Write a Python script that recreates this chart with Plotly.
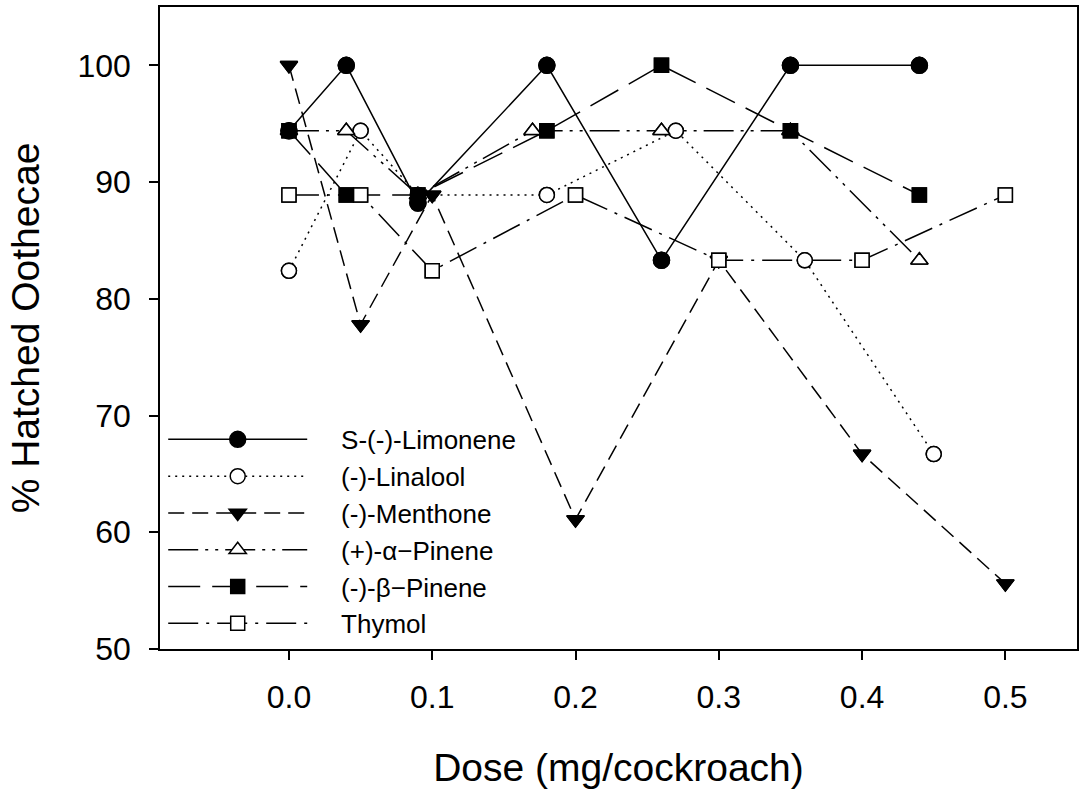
import plotly.graph_objects as go

# Dose (mg/cockroach) and % hatched oothecae for each compound
dose_limonene = [0.0, 0.04, 0.09, 0.18, 0.26, 0.35, 0.44]
hatch_limonene = [94.4, 100.0, 88.2, 100.0, 83.3, 100.0, 100.0]

dose_linalool = [0.0, 0.05, 0.09, 0.18, 0.27, 0.36, 0.45]
hatch_linalool = [82.4, 94.4, 88.9, 88.9, 94.4, 83.3, 66.7]

dose_menthone = [0.0, 0.05, 0.1, 0.2, 0.3, 0.4, 0.5]
hatch_menthone = [100.0, 77.8, 88.9, 61.1, 83.3, 66.7, 55.6]

dose_apinene = [0.0, 0.04, 0.09, 0.17, 0.26, 0.35, 0.44]
hatch_apinene = [94.4, 94.4, 88.9, 94.4, 94.4, 94.4, 83.3]

dose_bpinene = [0.0, 0.04, 0.09, 0.18, 0.26, 0.35, 0.44]
hatch_bpinene = [94.4, 88.9, 88.9, 94.4, 100.0, 94.4, 88.9]

dose_thymol = [0.0, 0.05, 0.1, 0.2, 0.3, 0.4, 0.5]
hatch_thymol = [88.9, 88.9, 82.4, 88.9, 83.3, 83.3, 88.9]

names = ["S-(-)-Limonene", "(-)-Linalool", "(-)-Menthone",
         "(+)-\u03b1\u2212Pinene", "(-)-\u03b2\u2212Pinene", "Thymol"]

FONT = "Liberation Sans, Arial, sans-serif"
BLACK = "#000000"

series = [
    # name, x, y, dash, symbol, fill, size
    (names[0], dose_limonene, hatch_limonene, "solid", "circle", BLACK, 16),
    (names[1], dose_linalool, hatch_linalool, "2px,5px", "circle", "white", 15),
    (names[2], dose_menthone, hatch_menthone, "16px,8px", "triangle-down", BLACK, 15),
    (names[3], dose_apinene, hatch_apinene, "30px,7px,3px,7px,3px,7px", "triangle-up", "white", 15),
    (names[4], dose_bpinene, hatch_bpinene, "32px,12px", "square", BLACK, 14),
    (names[5], dose_thymol, hatch_thymol, "30px,8px,3px,8px", "square", "white", 14),
]

fig = go.Figure()

# Lines (with legend entries) first
for i, (name, x, y, dash, sym, fill, size) in enumerate(series):
    fig.add_trace(go.Scatter(
        x=x, y=y, name="\u00a0\u00a0\u00a0\u00a0" + name, mode="lines+markers",
        line=dict(color=BLACK, width=1.5, dash=dash),
        marker=dict(symbol=sym, color=fill, size=size,
                    line=dict(color=BLACK, width=1.5)),
    ))

# Markers drawn again on top of all lines
marker_order = [2, 1, 3, 5, 4, 0]
for i in marker_order:
    name, x, y, dash, sym, fill, size = series[i]
    fig.add_trace(go.Scatter(
        x=x, y=y, mode="markers", showlegend=False, hoverinfo="skip",
        marker=dict(symbol=sym, color=fill, size=size,
                    line=dict(color=BLACK, width=1.5)),
    ))

axis_common = dict(
    showline=True, linecolor=BLACK, linewidth=1.5, mirror=True,
    ticks="outside", ticklen=9, tickwidth=1.5, tickcolor=BLACK,
    showgrid=False, zeroline=False,
    tickfont=dict(family=FONT, size=32, color=BLACK),
)

fig.update_layout(
    width=1082, height=793,
    margin=dict(l=160, r=3, t=7, b=144),
    paper_bgcolor="white", plot_bgcolor="white",
    font=dict(family=FONT, color=BLACK),
    xaxis=dict(
        range=[-0.09, 0.55], tick0=0, dtick=0.1, tickformat=".1f",
        ticklabelstandoff=10,
        title=dict(text="Dose (mg/cockroach)", standoff=40,
                   font=dict(family=FONT, size=39, color=BLACK)),
        **axis_common,
    ),
    yaxis=dict(
        range=[50, 105], tick0=50, dtick=10,
        ticklabelstandoff=12,
        title=dict(text="% Hatched Oothecae", standoff=26,
                   font=dict(family=FONT, size=39, color=BLACK)),
        **axis_common,
    ),
    legend=dict(
        x=0.0035, xanchor="left", y=0.363, yanchor="top",
        bgcolor="rgba(0,0,0,0)", borderwidth=0,
        font=dict(family=FONT, size=26, color=BLACK),
        itemwidth=139,
    ),
    showlegend=True,
)

fig.write_html("out.html")
